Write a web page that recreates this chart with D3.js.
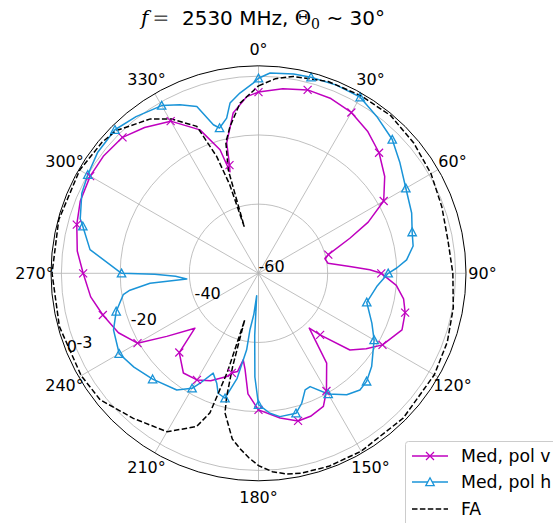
<!DOCTYPE html>
<html><head><meta charset="utf-8">
<script src="https://cdn.jsdelivr.net/npm/d3@7/dist/d3.min.js"></script>
<style>body{margin:0;background:#fff}svg{display:block}</style>
</head><body><svg id="chart" width="553" height="523"></svg>
<script>
// ---- data (angle in degrees clockwise from top, value in dB) ----
const polVAngles=[0,7.5,15,22.5,30,37.5,45,52.5,60,65,69,75,78,81.8,85.7,88.2,90,95,100,105,111.5,120,125,130,135,137.2,142.8,150,154,160,165,171.5,180,185,188,190,192,195,197,204,210,217,225,229.2,235.5,240,247,255,262,270,277,285,292,300,307,315,322,330,337.8,342.7,344.3,345,346.3,351,356.2,360];
const polVValues=[-7.6,-6.2,-5.1,-5.3,-6.3,-8.2,-10.7,-14,-18.2,-25,-31.7,-39.1,-40.3,-39.7,-33.5,-27.8,-24.5,-20,-17.4,-16.1,-15.4,-18.6,-22,-25.5,-34.8,-38.4,-27.4,-20.7,-17.2,-16,-15.8,-17.7,-20.5,-25,-32,-34.6,-31,-30.2,-28.8,-26,-24.4,-23.9,-27.6,-35.7,-27.8,-19.6,-16,-13.4,-11,-9.3,-7.2,-5.6,-4.4,-3.8,-3.8,-4.4,-6.5,-9.2,-15.2,-22.6,-29.5,-27.6,-21.2,-13.1,-8.8,-7.6];

const polHAngles=[0,3.3,10,15,22.5,30,37,45,52,60,68.5,75,80,84.8,87.8,90,96.4,105,113.7,120,129.5,135,139,144,150,155.5,158.2,161.6,165,171.5,175.3,180,182,183.5,184.6,186.5,188.6,188.8,191.5,195,198.6,200.8,204.4,208,210,215,225,233,240,248.7,255,261,262.5,264.8,265.5,268,269.5,270,278,285,287,294.4,300,307,315,322,330,335,339.7,343.1,345,348.4,350.5,354.1,358.4,360];
const polHValues=[-3.6,-2.0,-1.5,-1.3,-1.1,-1.2,-3.2,-5.3,-8.1,-10.8,-12.4,-14,-14.6,-17,-20,-22.5,-25.6,-27.6,-24.2,-21.4,-17.6,-15.8,-15.3,-16.6,-19.7,-24,-23.7,-20.4,-18.1,-18.1,-19.4,-22,-30,-42,-53.5,-48,-43.5,-37.6,-29,-22.6,-23.4,-26,-28.3,-24,-21.6,-18.8,-16.7,-14.9,-13.5,-15,-17.4,-20.4,-22.5,-28.5,-39.2,-36,-30,-20.4,-10.8,-7.4,-6.1,-3.9,-3.0,-1.8,-1.3,-2.5,-4.0,-6.2,-8.6,-15.1,-16.5,-14.2,-10.1,-7.6,-5.0,-3.6];

const faAngles=[0,5,10,20,30,40,50,60,70,80,90,100,110,120,135,150,160,168,172,176,180,183,186,189,193.5,194.5,195.5,196.5,197.5,199.2,202,210,220.8,231.4,240,255,270,285,300,310,315,325,330.6,337.2,340.3,342,343,343.7,346,349,353.8,360];
const faValues=[-5.8,-3.5,-2.2,-1.0,-0.7,-0.5,-1.4,-2.4,-3.6,-4.4,-3.8,-2.8,-1.9,-1.3,-0.8,-0.6,-0.6,-0.9,-1.4,-2.5,-4.4,-6.6,-9.0,-11.5,-18.5,-23.3,-32,-46,-30,-17.3,-12.2,-7.1,-4.6,-1.4,-0.8,-0.4,-0.3,-0.2,-0.3,-1.0,-1.7,-5.5,-8.8,-13.9,-24.1,-33,-46,-28.8,-21,-16.8,-10.5,-5.8];

const radialTicks=[-60,-40,-20,-3,0];
const radialTickLabels=["-60","-40","-20","-3","0"];
const angleTicks=[0,30,60,90,120,150,180,210,240,270,300,330];
const angleTickLabels=angleTicks.map(a=>a+"°");
const seriesNames=["Med, pol v","Med, pol h","FA"];
const markerStep=15;

// ---- layout ----
const cx=258.5, cy=273.3, R=207.5;
const colV="#bf00bf", colH="#1a94d8";
const svg=d3.select("#chart");
const r=d3.scaleLinear().domain([-60,0]).range([0,R]);
const toRad=d=>d*Math.PI/180;
const g=svg.append("g").attr("transform",`translate(${cx},${cy})`);

// grid
g.selectAll("circle.grid").data(radialTicks.filter(t=>t>-60&&t<0)).enter()
 .append("circle").attr("r",d=>r(d)).attr("fill","none").attr("stroke","#b0b0b0").attr("stroke-width",0.8);
g.selectAll("line.spoke").data(angleTicks).enter().append("line")
 .attr("x1",0).attr("y1",0)
 .attr("x2",d=>R*Math.sin(toRad(d))).attr("y2",d=>-R*Math.cos(toRad(d)))
 .attr("stroke","#b0b0b0").attr("stroke-width",0.8);

// curves
const line=d3.lineRadial().angle(d=>toRad(d[0])).radius(d=>r(Math.max(-60,d[1])));
const zip=(a,b)=>a.map((x,i)=>[x,b[i]]);
const dV=zip(polVAngles,polVValues), dH=zip(polHAngles,polHValues), dF=zip(faAngles,faValues);

g.append("path").attr("d",line(dV)).attr("fill","none").attr("stroke",colV).attr("stroke-width",1.5).attr("stroke-linejoin","round");
g.append("path").attr("d",line(dH)).attr("fill","none").attr("stroke",colH).attr("stroke-width",1.5).attr("stroke-linejoin","round");
g.append("path").attr("d",line(dF)).attr("fill","none").attr("stroke","#000").attr("stroke-width",1.5).attr("stroke-dasharray","5.5,2.4");

// markers
const xPath="M-4,-4L4,4M-4,4L4,-4";
const triPath="M0,-4.2L4.2,3.6L-4.2,3.6Z";
const pos=d=>[r(d[1])*Math.sin(toRad(d[0])), -r(d[1])*Math.cos(toRad(d[0]))];
g.selectAll("path.mv").data(dV.filter(d=>d[0]%markerStep===0&&d[0]<360)).enter().append("path")
 .attr("d",xPath).attr("transform",d=>`translate(${pos(d)})`).attr("stroke",colV).attr("stroke-width",1.2).attr("fill","none");
g.selectAll("path.mh").data(dH.filter(d=>d[0]%markerStep===0&&d[0]<360)).enter().append("path")
 .attr("d",triPath).attr("transform",d=>`translate(${pos(d)})`).attr("stroke",colH).attr("stroke-width",1.3).attr("fill","none");

// spine
g.append("circle").attr("r",R).attr("fill","none").attr("stroke","#000").attr("stroke-width",1);

// angle labels
const font="DejaVu Sans, sans-serif";
g.selectAll("text.ang").data(angleTicks).enter().append("text")
 .attr("x",d=>224*Math.sin(toRad(d))).attr("y",d=>-224*Math.cos(toRad(d)))
 .attr("text-anchor","middle").attr("dy","0.36em")
 .attr("font-family",font).attr("font-size",16).attr("fill","#000")
 .text((d,i)=>angleTickLabels[i]);

// radial labels along 247.5°
const la=toRad(247.5);
g.selectAll("text.rad").data(radialTicks).enter().append("text")
 .attr("x",d=>r(d)*Math.sin(la)).attr("y",d=>-r(d)*Math.cos(la)-1)
 .attr("font-family",font).attr("font-size",16).attr("fill","#000")
 .text((d,i)=>radialTickLabels[i]);

// title
const t=svg.append("text").attr("x",263).attr("y",25).attr("text-anchor","middle")
 .attr("font-family",font).attr("font-size",20).attr("fill","#000");
t.append("tspan").attr("font-family","DejaVu Serif, serif").attr("font-style","italic").text("f");
t.append("tspan").attr("font-family","DejaVu Serif, serif").attr("fill","#555").text("\u2009=");
t.append("tspan").text("\u00a0\u00a02530 MHz, ");
t.append("tspan").attr("font-family","DejaVu Serif, serif").text("Θ");
t.append("tspan").attr("font-family","DejaVu Serif, serif").attr("font-size",14).attr("dy",4).text("0");
t.append("tspan").attr("dy",-4).text(" ~ 30°");

// legend
const lg=svg.append("g");
lg.append("rect").attr("x",405.5).attr("y",441.5).attr("width",170).attr("height",95).attr("rx",3)
 .attr("fill","#fff").attr("fill-opacity",0.8).attr("stroke","#cccccc").attr("stroke-width",1);
const ly=[456,482,509];
seriesNames.forEach((name,i)=>{
  const col=i===0?colV:(i===1?colH:"#000");
  const ln=lg.append("line").attr("x1",412).attr("x2",448).attr("y1",ly[i]).attr("y2",ly[i]).attr("stroke",col).attr("stroke-width",1.5);
  if(i===2) ln.attr("stroke-dasharray","5.5,2.4");
  if(i===0) lg.append("path").attr("d",xPath).attr("transform",`translate(430,${ly[i]})`).attr("stroke",col).attr("stroke-width",1.2);
  if(i===1) lg.append("path").attr("d",triPath).attr("transform",`translate(430,${ly[i]})`).attr("stroke",col).attr("stroke-width",1.3).attr("fill","#fff");
  lg.append("text").attr("x",461).attr("y",ly[i]).attr("dy","0.36em").attr("font-family",font).attr("font-size",17.3).text(name);
});
</script></body></html>
